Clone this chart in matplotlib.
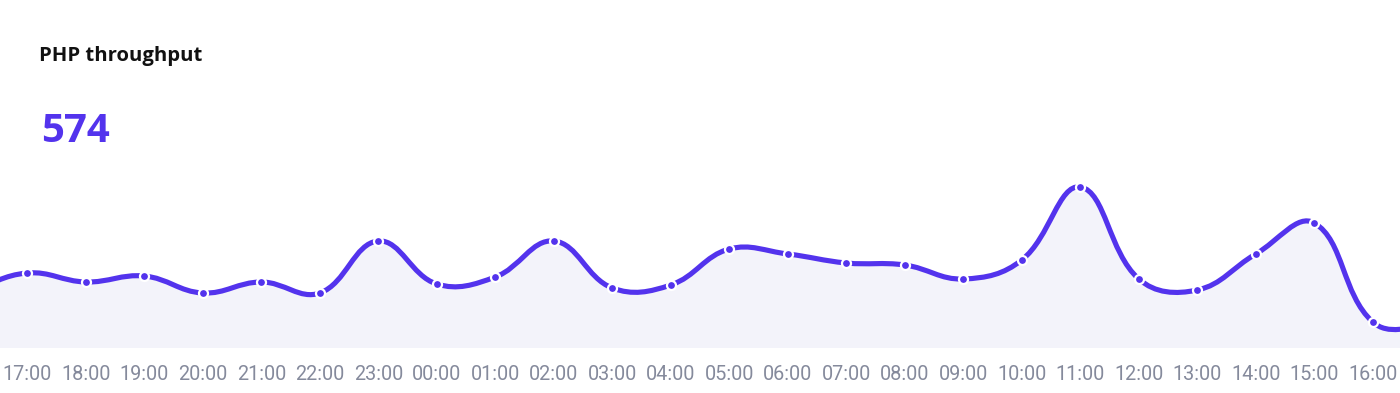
import matplotlib
matplotlib.use("Agg")
import matplotlib.pyplot as plt
import numpy as np
from matplotlib.path import Path
from matplotlib.patches import PathPatch

# ---- data ----
hours = ["17:00", "18:00", "19:00", "20:00", "21:00", "22:00", "23:00", "00:00",
         "01:00", "02:00", "03:00", "04:00", "05:00", "06:00", "07:00", "08:00",
         "09:00", "10:00", "11:00", "12:00", "13:00", "14:00", "15:00", "16:00"]
throughput = [75, 66, 72, 55, 66, 55, 107, 64, 71, 107, 60, 63, 99, 94, 85, 83,
              69, 88, 161, 69, 58, 94, 125, 26]
# neighbouring points just outside the visible window
prev_value = 56
next_value = 20
title = "PHP throughput"
headline = "574"

PURPLE = "#5333ed"
FILL = "#f3f3fa"
GREY = "#858a9c"

W, H = 1400, 393
fig = plt.figure(figsize=(W / 100, H / 100), dpi=100)
ax = fig.add_axes([0, (H - 348) / H, 1, 200 / H])

xs = np.arange(-1, len(hours) + 1, dtype=float)
ys = np.array([prev_value] + throughput + [next_value], dtype=float)

x_px = 58.5  # pixels per hour, used only for spline tension distances
x_left = -27.3 / x_px
ax.set_xlim(x_left, x_left + W / x_px)
ax.set_ylim(0, 200)


def spline_path(xs, ys, tension=0.4):
    px = xs * x_px
    py = ys.copy()
    n = len(px)
    cps_prev = [None] * n
    cps_next = [None] * n
    for i in range(n):
        p1 = np.array([px[i], py[i]])
        p0 = np.array([px[i - 1], py[i - 1]]) if i > 0 else p1
        p2 = np.array([px[i + 1], py[i + 1]]) if i < n - 1 else p1
        d01 = np.hypot(*(p1 - p0))
        d12 = np.hypot(*(p2 - p1))
        tot = d01 + d12
        s01 = d01 / tot if tot else 0
        s12 = d12 / tot if tot else 0
        fa = tension * s01
        fb = tension * s12
        cps_prev[i] = p1 - fa * (p2 - p0)
        cps_next[i] = p1 + fb * (p2 - p0)
    verts = [(px[0], py[0])]
    codes = [Path.MOVETO]
    for i in range(n - 1):
        verts += [tuple(cps_next[i]), tuple(cps_prev[i + 1]), (px[i + 1], py[i + 1])]
        codes += [Path.CURVE4] * 3
    verts = [(vx / x_px, vy) for vx, vy in verts]
    return verts, codes


verts, codes = spline_path(xs, ys)

# fill area
fverts = verts + [(xs[-1], 0), (xs[0], 0), verts[0]]
fcodes = codes + [Path.LINETO, Path.LINETO, Path.CLOSEPOLY]
ax.add_patch(PathPatch(Path(fverts, fcodes), facecolor=FILL, edgecolor="none", zorder=1))

# line
ax.add_patch(PathPatch(Path(verts, codes), facecolor="none", edgecolor=PURPLE,
                       lw=3.7, capstyle="round", joinstyle="round", zorder=2))

# markers
ax.plot(xs, ys, linestyle="none", marker="o", markersize=6.5,
        markerfacecolor=PURPLE, markeredgecolor="white", markeredgewidth=1.6,
        zorder=3, clip_on=True)

ax.set_xticks(np.arange(len(hours)))
ax.set_xticklabels(hours, fontfamily="Roboto", fontsize=14.3, color=GREY)
ax.tick_params(axis="x", length=0, pad=12)
ax.set_yticks([])
for s in ax.spines.values():
    s.set_visible(False)
ax.set_facecolor("none")

fig.text(39 / W, 1 - 61 / H, title, fontfamily="Open Sans", fontweight="bold",
         fontsize=14.6, color="#111111", ha="left", va="baseline")
fig.text(41 / W, 1 - 142 / H, headline, fontfamily="Open Sans", fontweight="bold",
         fontsize=29, color=PURPLE, ha="left", va="baseline")

fig.savefig("out.png", dpi=100, facecolor="white")
